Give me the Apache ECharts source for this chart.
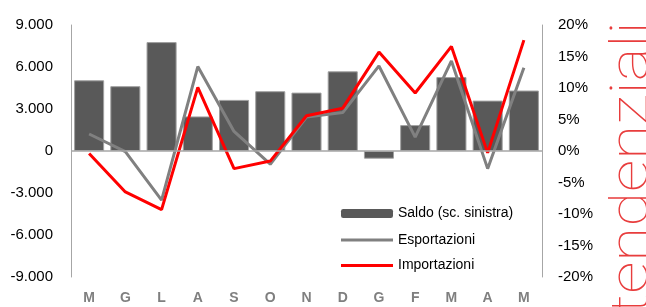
<!DOCTYPE html>
<html>
<head>
<meta charset="utf-8">
<script src="https://cdn.jsdelivr.net/npm/echarts@6/dist/echarts.min.js"></script>
<style>
  html, body { margin: 0; padding: 0; background: #fff; }
  #grafico { width: 646px; height: 307px; }
</style>
</head>
<body>
<div id="grafico"></div>
<script>
// mesi (da maggio a maggio)
var mesi = ['M', 'G', 'L', 'A', 'S', 'O', 'N', 'D', 'G', 'F', 'M', 'A', 'M'];
// saldo commerciale, scala sinistra
var saldo = [5050, 4630, 7780, 2470, 3650, 4270, 4170, 5690, -550, 1850, 5280, 3600, 4320];
// variazioni tendenziali %, scala destra
var esportazioni = [2.7, -0.1, -7.8, 13.4, 3.1, -2.1, 5.4, 6.1, 13.5, 2.2, 14.3, -2.8, 13.2];
var importazioni = [-0.4, -6.5, -9.3, 10.1, -2.8, -1.6, 5.6, 6.8, 15.7, 9.2, 16.6, -0.3, 17.6];

var chart = echarts.init(document.getElementById('grafico'));

var assiGrigio = '#a6a6a6';
var testoLegenda = { fontSize: 14, color: '#000' };

chart.setOption({
  animation: false,
  textStyle: { fontFamily: 'Liberation Sans, Arial, sans-serif' },
  grid: { left: 71, right: 104, top: 25, bottom: 30 },
  // due legende: il rettangolo del saldo e le linee sottili
  legend: [
    {
      orient: 'vertical',
      left: 341,
      top: 206.5,
      padding: 0,
      itemWidth: 52,
      itemHeight: 9,
      itemStyle: { borderWidth: 0 },
      textStyle: testoLegenda,
      data: ['Saldo (sc. sinistra)']
    },
    {
      orient: 'vertical',
      left: 341,
      top: 233,
      padding: 0,
      itemWidth: 52,
      itemHeight: 3,
      itemGap: 11.5,
      icon: 'rect',
      textStyle: testoLegenda,
      data: ['Esportazioni', 'Importazioni']
    }
  ],
  xAxis: {
    type: 'category',
    data: mesi,
    axisLine: { show: false, onZero: false },
    axisTick: { show: false },
    axisLabel: { margin: 14, fontSize: 14, fontWeight: 'bold', color: '#7f7f7f' }
  },
  yAxis: [
    {
      type: 'value',
      min: -9000, max: 9000, interval: 3000,
      splitLine: { show: false },
      axisTick: { show: false },
      axisLine: { show: true, lineStyle: { color: assiGrigio } },
      axisLabel: {
        margin: 18, fontSize: 15, color: '#000',
        formatter: function (v) {
          return v === 0 ? '0' : (v < 0 ? '-' : '') + Math.abs(v / 1000) + '.000';
        }
      }
    },
    {
      type: 'value',
      min: -20, max: 20, interval: 5,
      splitLine: { show: false },
      axisTick: { show: false },
      axisLine: { show: true, lineStyle: { color: assiGrigio } },
      axisLabel: { margin: 16, fontSize: 15, color: '#000', formatter: '{value}%' }
    }
  ],
  series: [
    {
      name: 'Saldo (sc. sinistra)',
      type: 'bar',
      data: saldo,
      barCategoryGap: '17%',
      itemStyle: { color: '#595959', borderColor: '#a0a0a0', borderWidth: 1 },
      markLine: {
        silent: true,
        symbol: 'none',
        label: { show: false },
        lineStyle: { color: assiGrigio, width: 1.5, type: 'solid' },
        data: [{ yAxis: 0 }]
      }
    },
    {
      name: 'Esportazioni',
      type: 'line',
      yAxisIndex: 1,
      data: esportazioni,
      symbol: 'none',
      lineStyle: { color: '#808080', width: 3 },
      itemStyle: { color: '#808080' }
    },
    {
      name: 'Importazioni',
      type: 'line',
      yAxisIndex: 1,
      data: importazioni,
      symbol: 'none',
      lineStyle: { color: '#ff0000', width: 3 },
      itemStyle: { color: '#ff0000' }
    }
  ],
  graphic: [
    {
      type: 'text',
      x: 609,
      y: 314,
      rotation: Math.PI / 2,
      scaleX: 1.25,
      style: {
        text: 'tendenziali',
        fontSize: 51,
        fontFamily: 'Roboto',
        fontWeight: 100,
        fill: 'rgba(230, 40, 40, 0.9)',
        align: 'left',
        verticalAlign: 'top'
      }
    }
  ]
});
</script>
</body>
</html>
